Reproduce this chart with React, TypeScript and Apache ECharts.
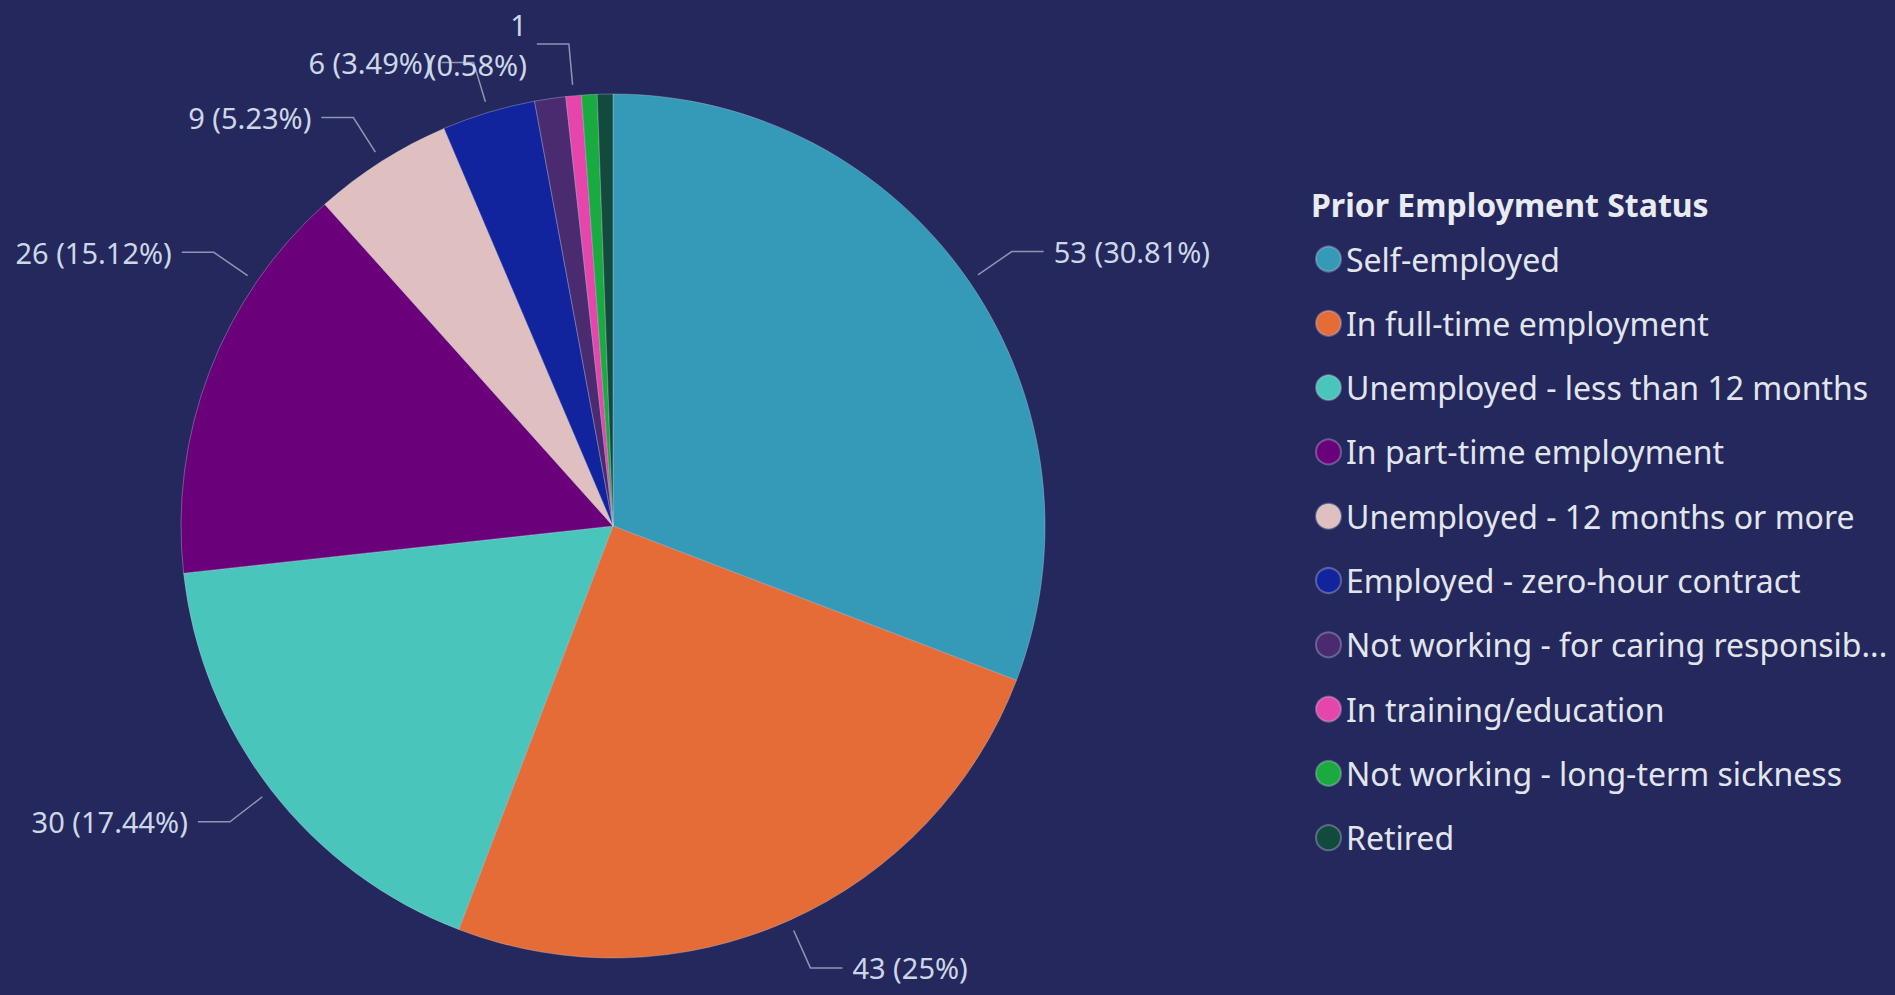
import React, { useEffect, useRef } from "react";
import * as echarts from "echarts";

const legendTitle = "Prior Employment Status";
const categories = [
  "Self-employed",
  "In full-time employment",
  "Unemployed - less than 12 months",
  "In part-time employment",
  "Unemployed - 12 months or more",
  "Employed - zero-hour contract",
  "Not working - for caring responsibilities",
  "In training/education",
  "Not working - long-term sickness",
  "Retired",
];
const values = [53, 43, 30, 26, 9, 6, 2, 1, 1, 1];
const colors = [
  "#3599B8",
  "#E66C37",
  "#4AC5BB",
  "#6B007B",
  "#DFBFBF",
  "#12239E",
  "#4B2B70",
  "#E645AB",
  "#1AAB40",
  "#124A3E",
];
const showLabel = [true, true, true, true, true, true, false, true, false, false];
const wrapLabel = [false, false, false, false, false, false, false, true, false, false];

const BG = "#25285C";
const FONT = "'Noto Sans', 'Open Sans', sans-serif";

const CENTER: [number, number] = [613, 526];
const RADIUS = 432;
const LINE_START = 11; // gap between slice edge and leader start
const LINE_ELBOW = 52; // radial distance from slice edge to elbow
const LINE_H = 32; // horizontal leader length
const TEXT_GAP = 10;
const MARGIN = 15;

const total = values.reduce((a, b) => a + b, 0);
const pct = (v: number) => +((v / total) * 100).toFixed(2);

function midAngle(i: number) {
  let before = 0;
  for (let k = 0; k < i; k++) before += values[k];
  return ((before + values[i] / 2) / total) * 360;
}

function geom(deg: number) {
  const r = (deg * Math.PI) / 180;
  const dx = Math.sin(r);
  const dy = -Math.cos(r);
  const right = dx >= 0;
  const start = [CENTER[0] + (RADIUS + LINE_START) * dx, CENTER[1] + (RADIUS + LINE_START) * dy];
  const elbow = [CENTER[0] + (RADIUS + LINE_ELBOW) * dx, CENTER[1] + (RADIUS + LINE_ELBOW) * dy];
  const end = [elbow[0] + (right ? LINE_H : -LINE_H), elbow[1]];
  const textX = end[0] + (right ? TEXT_GAP : -TEXT_GAP);
  return { right, start, elbow, end, textX };
}

export default function App() {
  const ref = useRef<HTMLDivElement>(null);
  useEffect(() => {
    if (!ref.current) return;
    const chart = echarts.init(ref.current, undefined, { renderer: "svg" });
    chart.setOption({
      animation: false,
      backgroundColor: BG,
      title: {
        text: legendTitle,
        left: 1306,
        top: 179,
        textStyle: {
          color: "#E8EBF1",
          fontFamily: FONT,
          fontSize: 32,
          lineHeight: 40,
          fontWeight: "bold",
        },
      },
      legend: {
        orient: "vertical",
        left: 1310,
        top: 236,
        itemWidth: 25,
        itemHeight: 25,
        itemGap: 28.3,
        icon: "circle",
        data: categories,
        textStyle: {
          color: "#E1E5EC",
          fontFamily: FONT,
          fontSize: 32,
          lineHeight: 36,
          width: 548,
          overflow: "truncate",
          ellipsis: "...",
        },
      },
      series: [
        {
          type: "pie",
          center: CENTER,
          radius: RADIUS,
          startAngle: 90,
          clockwise: true,
          avoidLabelOverlap: false,
          itemStyle: { borderColor: "rgba(200,210,230,0.35)", borderWidth: 1 },
          label: {
            show: true,
            position: "outside",
            color: "#CCD7E8",
            fontFamily: FONT,
            fontSize: 29,
            formatter: (p: any) =>
              wrapLabel[p.dataIndex]
                ? `${p.value}\n(${pct(p.value)}%)`
                : `${p.value} (${pct(p.value)}%)`,
          },
          labelLine: {
            show: true,
            length: 40,
            length2: 32,
            lineStyle: { color: "#8E95B3", width: 1.5 },
          },
          labelLayout: (p: any) => {
            const w = p.labelRect.width;
            let a = midAngle(p.dataIndex);
            let g = geom(a);
            const fits = (gg: any) =>
              gg.right ? gg.textX + w <= 1895 - MARGIN : gg.textX - w >= MARGIN;
            let guard = 0;
            while (!fits(g) && guard < 400) {
              if (a > 270) a += 0.25;
              else if (a > 180) a -= 0.25;
              else if (a > 90) a += 0.25;
              else a -= 0.25;
              g = geom(a);
              guard++;
            }
            return {
              x: g.textX,
              y: g.elbow[1],
              align: g.right ? "left" : "right",
              verticalAlign: "middle",
              labelLinePoints: [g.start, g.elbow, g.end],
              hideOverlap: false,
            };
          },
          data: categories.map((name, i) => ({
            name,
            value: values[i],
            itemStyle: { color: colors[i] },
            label: { show: showLabel[i], lineHeight: wrapLabel[i] ? 40 : 34 },
            labelLine: { show: showLabel[i] },
          })),
        },
      ],
    });
    return () => chart.dispose();
  }, []);
  return (
    <div
      ref={ref}
      style={{ position: "fixed", left: 0, top: 0, width: 1895, height: 995 }}
    />
  );
}
